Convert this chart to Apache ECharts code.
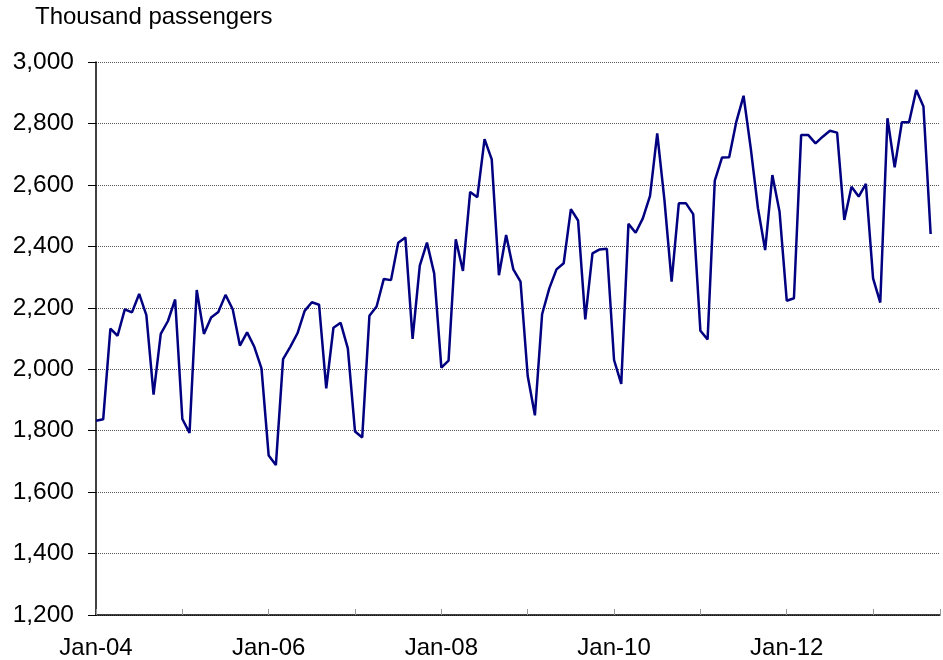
<!DOCTYPE html>
<html>
<head>
<meta charset="utf-8">
<script src="https://cdn.jsdelivr.net/npm/echarts@6/dist/echarts.min.js"></script>
<style>html,body{margin:0;padding:0;background:#fff}#c{width:943px;height:660px}</style>
</head>
<body>
<div id="c"></div>
<script>
const titleText = 'Thousand passengers';
const tickLabels = ['Jan-04', 'Jan-06', 'Jan-08', 'Jan-10', 'Jan-12'];
const yTicks = [1200, 3000, 200];
// Monthly values from Jan-04 to Sep-13
const passengers = [
  1832, 1837, 2132, 2109, 2195, 2185, 2245, 2176, 1917, 2115, 2157, 2227,
  1838, 1793, 2258, 2115, 2168, 2186, 2242, 2195, 2077, 2120, 2073, 2003,
  1719, 1688, 2033, 2073, 2117, 2190, 2218, 2210, 1938, 2135, 2151, 2068,
  1797, 1778, 2174, 2204, 2294, 2290, 2412, 2429, 2099, 2337, 2412, 2312,
  2005, 2028, 2423, 2320, 2577, 2560, 2749, 2683, 2306, 2437, 2325, 2285,
  1978, 1850, 2179, 2263, 2325, 2345, 2521, 2484, 2162, 2377, 2390, 2392,
  2030, 1952, 2473, 2444, 2491, 2564, 2768, 2551, 2285, 2540, 2540, 2505,
  2125, 2097, 2614, 2689, 2690, 2806, 2890, 2719, 2524, 2388, 2632, 2513,
  2223, 2231, 2762, 2762, 2735, 2757, 2776, 2770, 2486, 2594, 2562, 2603,
  2296, 2217, 2817, 2657, 2804, 2804, 2909, 2855, 2440
];

const seriesData = passengers.map((v, i) => [i, v]);
const font = 'Liberation Sans, Arial, sans-serif';

const chart = echarts.init(document.getElementById('c'), null, {renderer: 'canvas'});
chart.setOption({
  animation: false,
  backgroundColor: '#fff',
  title: {
    text: titleText,
    left: 35,
    top: 5,
    padding: 0,
    textStyle: {fontFamily: font, fontSize: 24, fontWeight: 'normal', color: '#000'}
  },
  grid: {left: 96, top: 62, bottom: 45, right: 0, containLabel: false},
  xAxis: {
    type: 'value',
    min: 0,
    max: 117.3,
    interval: 12,
    axisLine: {show: true, onZero: false, lineStyle: {color: '#000', width: 1.5}},
    axisTick: {show: true, inside: true, length: 6, lineStyle: {color: '#999', width: 1}},
    splitLine: {show: false},
    axisLabel: {
      margin: 21,
      fontFamily: font,
      fontSize: 24,
      color: '#000',
      formatter: v => (v % 24 === 0 && tickLabels[v / 24]) ? tickLabels[v / 24] : ''
    }
  },
  yAxis: {
    type: 'value',
    min: yTicks[0],
    max: yTicks[1],
    interval: yTicks[2],
    axisLine: {show: true, lineStyle: {color: '#000', width: 1.5}},
    axisTick: {show: true, inside: false, length: 8, lineStyle: {color: '#000', width: 1}},
    splitLine: {show: true, lineStyle: {color: '#555', type: 'dotted', width: 1}},
    axisLabel: {
      margin: 22,
      fontFamily: font,
      fontSize: 24.5,
      color: '#000',
      formatter: v => v.toLocaleString('en-US')
    }
  },
  series: [{
    type: 'line',
    data: seriesData,
    symbol: 'none',
    lineStyle: {color: '#000080', width: 2.5},
    itemStyle: {color: '#000080'}
  }]
});
</script>
</body>
</html>
